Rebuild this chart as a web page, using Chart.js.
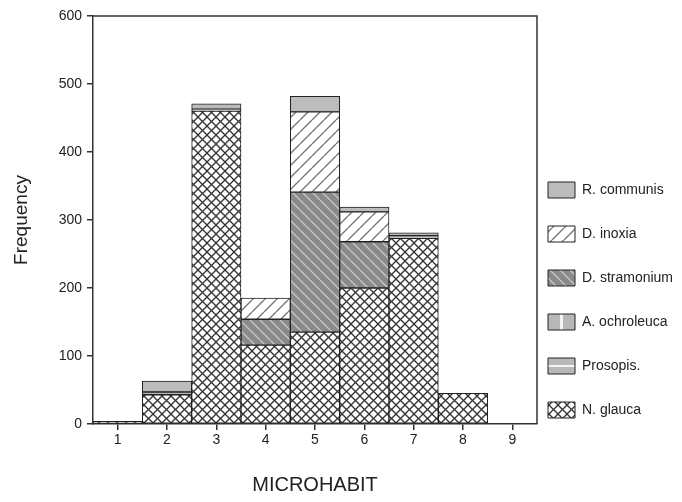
<!DOCTYPE html>
<html>
<head>
<meta charset="utf-8">
<script src="https://cdn.jsdelivr.net/npm/chart.js@4/dist/chart.umd.min.js"></script>
<style>
  html, body { margin: 0; padding: 0; background: #ffffff; }
  #wrap { width: 682px; height: 502px; }
</style>
</head>
<body>
<div id="wrap"><canvas id="c" width="682" height="502"></canvas></div>
<script>
// ---- data ----
const categories = ['1', '2', '3', '4', '5', '6', '7', '8', '9'];
const nGlauca     = [4, 43, 460, 116, 135, 200, 273, 45, 0];
const prosopis    = [0, 4, 3, 0, 0, 0, 4, 0, 0];
const aOchroleuca = [0, 0, 0, 0, 0, 0, 0, 0, 0];
const dStramonium = [0, 0, 0, 38, 206, 68, 0, 0, 0];
const dInoxia     = [0, 0, 0, 31, 118, 44, 0, 0, 0];
const rCommunis   = [0, 16, 8, 0, 23, 7, 4, 0, 0];
const seriesNames = ['N. glauca', 'Prosopis.', 'A. ochroleuca', 'D. stramonium', 'D. inoxia', 'R. communis'];
const yTicks = [0, 100, 200, 300, 400, 500, 600];

// ---- fill patterns ----
function makePattern(w, h, bg, draw) {
  const c = document.createElement('canvas');
  c.width = w; c.height = h;
  const x = c.getContext('2d');
  x.fillStyle = bg; x.fillRect(0, 0, w, h);
  draw(x, w, h);
  return x.createPattern(c, 'repeat');
}
const patCross = makePattern(9, 9, '#ffffff', (x, w, h) => {
  x.strokeStyle = '#333333'; x.lineWidth = 1.3;
  for (const o of [-w, 0, w]) {
    x.beginPath(); x.moveTo(o, 0); x.lineTo(o + w, h); x.stroke();
    x.beginPath(); x.moveTo(o, h); x.lineTo(o + w, 0); x.stroke();
  }
});
const patProsopis = makePattern(4, 16, '#b8b8b8', (x) => {
  x.fillStyle = '#f4f4f4'; x.fillRect(0, 13, 4, 2);
});
const patOchro = makePattern(28, 4, '#b8b8b8', (x) => {
  x.fillStyle = '#f4f4f4'; x.fillRect(0, 0, 3, 4);
});
const patStram = makePattern(10, 10, '#8a8a8a', (x, w, h) => {
  x.strokeStyle = '#c4c4c4'; x.lineWidth = 1.4;
  for (const o of [-w, 0, w]) {
    x.beginPath(); x.moveTo(o, 0); x.lineTo(o + w, h); x.stroke();
  }
});
const patInox = makePattern(12, 12, '#ffffff', (x, w, h) => {
  x.strokeStyle = '#7a7a7a'; x.lineWidth = 1.4;
  for (const o of [-w, 0, w]) {
    x.beginPath(); x.moveTo(o, h); x.lineTo(o + w, 0); x.stroke();
  }
});
const solidRic = '#bcbcbc';

const fills = [patCross, patProsopis, patOchro, patStram, patInox, solidRic];
const values = [nGlauca, prosopis, aOchroleuca, dStramonium, dInoxia, rCommunis];

const datasets = seriesNames.map((name, i) => ({
  label: name,
  data: values[i],
  backgroundColor: fills[i],
  borderColor: '#222222',
  borderWidth: 1,
  borderSkipped: false,
  categoryPercentage: 1.0,
  barPercentage: 1.0
}));

const FONT = "'Liberation Sans', Arial, sans-serif";

const legendShift = {
  id: 'legendShift',
  afterLayout(chart) {
    const lg = chart.legend;
    const pad = lg.options.labels.padding;
    const dx = (chart.chartArea.right + 11) - (lg.left + pad);
    lg.left += dx;
    lg.right = chart.width;
    lg.width = lg.right - lg.left;
  }
};
const frame = {
  id: 'frame',
  afterDatasetsDraw(chart) {
    const { ctx, chartArea: a } = chart;
    ctx.save();
    ctx.strokeStyle = '#333333';
    ctx.lineWidth = 1.5;
    ctx.beginPath();
    ctx.moveTo(a.left, a.top);
    ctx.lineTo(a.right, a.top);
    ctx.lineTo(a.right, a.bottom);
    ctx.stroke();
    ctx.restore();
  }
};

new Chart(document.getElementById('c'), {
  type: 'bar',
  data: { labels: categories, datasets },
  plugins: [legendShift, frame],
  options: {
    responsive: false,
    animation: false,
    layout: { padding: { top: 16, right: 0, bottom: 0, left: 0 } },
    plugins: {
      tooltip: { enabled: false },
      legend: {
        position: 'right',
        align: 'start',
        reverse: true,
        maxWidth: 145,
        title: { display: true, text: '', font: { size: 10, lineHeight: 1 }, padding: { top: 128, bottom: 0 } },
        labels: {
          boxWidth: 27,
          boxHeight: 16,
          padding: 28,
          color: '#222222',
          font: { family: FONT, size: 14 }
        }
      }
    },
    scales: {
      x: {
        type: 'category',
        stacked: true,
        offset: true,
        afterFit(s) { s.height = 78; },
        grid: { display: true, offset: false, drawOnChartArea: false, drawTicks: true, tickLength: 6, color: '#333333', lineWidth: 1.5 },
        border: { display: true, color: '#333333', width: 1.5 },
        ticks: { color: '#222222', font: { family: FONT, size: 14 }, padding: 2, autoSkip: false, maxRotation: 0 },
        title: { display: true, text: 'MICROHABIT', color: '#222222', font: { family: FONT, size: 20 }, padding: { top: 20, bottom: 5 } }
      },
      y: {
        stacked: true,
        min: 0,
        max: 600,
        afterFit(s) { s.width = 93; },
        afterBuildTicks(s) { s.ticks = yTicks.map(v => ({ value: v })); },
        grid: { display: true, drawOnChartArea: false, drawTicks: true, tickLength: 6, color: '#333333', lineWidth: 1.5 },
        border: { display: true, color: '#333333', width: 1.5 },
        ticks: { color: '#222222', font: { family: FONT, size: 14 }, padding: 5 },
        title: { display: true, text: 'Frequency', color: '#222222', font: { family: FONT, size: 19 }, padding: { top: 10, bottom: 0 } }
      }
    }
  }
});
</script>
</body>
</html>
